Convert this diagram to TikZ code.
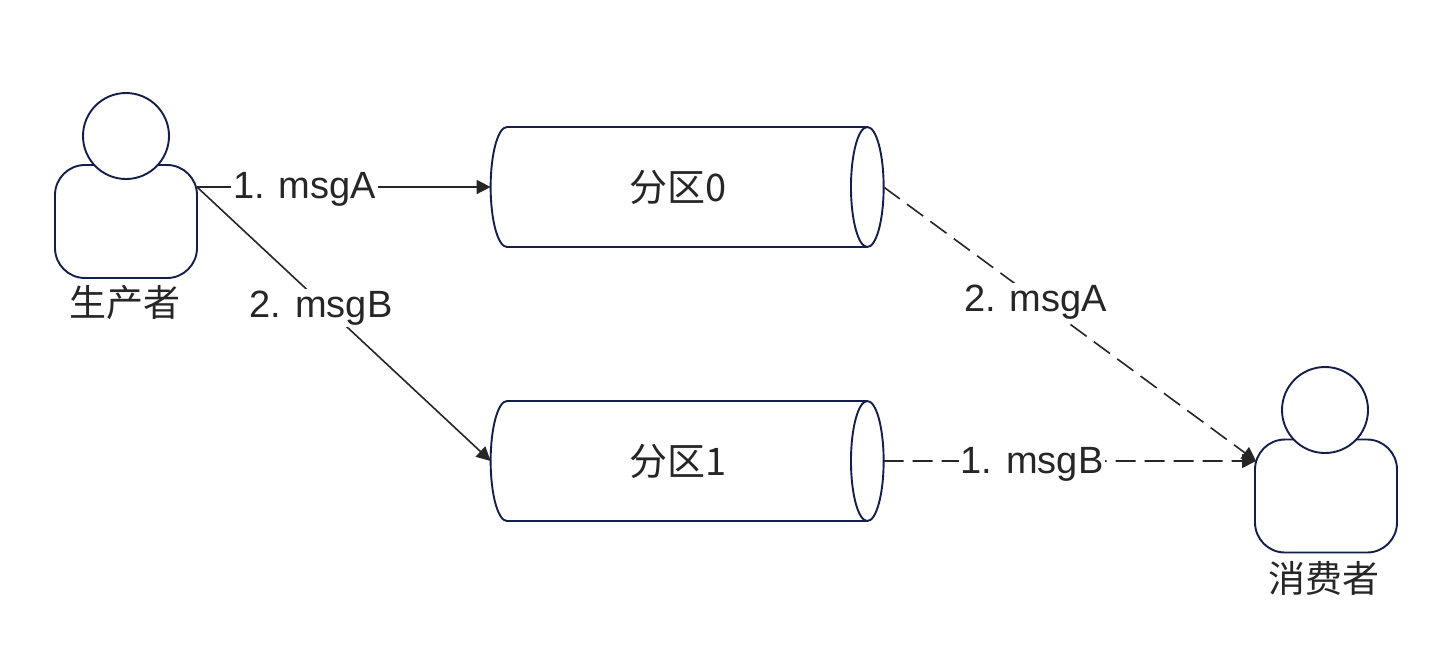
\documentclass[tikz,border=0pt]{standalone}
\usepackage{fontspec}
\setmainfont{Liberation Sans}
\newfontfamily\cjk{Noto Sans CJK SC}
\usetikzlibrary{shapes.geometric,arrows.meta}
\definecolor{navy}{HTML}{141E4A}
\definecolor{ink}{HTML}{262626}
\tikzset{
  x=0.5pt,y=-0.5pt,
  body/.style={draw=navy,line width=0.95pt,fill=white,rounded corners=15pt,minimum width=71pt,minimum height=56.5pt,inner sep=0pt,outer sep=0pt},
  head/.style={draw=navy,line width=0.95pt,fill=white,circle,minimum size=43pt,inner sep=0pt,outer sep=0pt},
  queue/.style={draw=navy,line width=0.95pt,fill=white,cylinder,shape aspect=0.95,minimum width=60pt,minimum height=196.5pt,inner sep=0pt,outer sep=0pt,text=ink,font=\fontsize{19pt}{22pt}\cjk},
  personlabel/.style={text=ink,font=\fontsize{18.5pt}{22pt}\cjk,inner sep=0pt},
  msg/.style={fill=white,text=ink,font=\fontsize{19pt}{22pt}\selectfont,inner sep=0.8pt},
  flow/.style={draw=ink,line width=0.8pt,-{Triangle[length=7pt,width=7pt]}},
  flowd/.style={flow,dash pattern=on 10pt off 4.5pt},
}
\begin{document}
\begin{tikzpicture}
\useasboundingbox[fill=white] (0,0) rectangle (1440,644);
\node[body] (pbody) at (126,221.5) {};
\node[head] (phead) at (126,136) {};
\node[personlabel] (plabel) at (125,303) {生产者};
\node[body] (cbody) at (1326,496) {};
\node[head] (chead) at (1325,410) {};
\node[personlabel] (clabel) at (1324,578) {消费者};
\node[queue] (q0) at (678.5,187) {分区0};
\node[queue] (q1) at (678.5,461) {分区1};
\coordinate (pout) at (197,187);
\coordinate (cin) at (1256,461);
\draw[flow] (pout) -- (q0.west);
\draw[flow] (pout) -- (q1.west);
\draw[flowd] (q0.east) -- (cin);
\draw[flowd] (q1.east) -- (cin);
\node[msg] (m1) at (304.5,189.5) {1. msgA};
\node[msg] (m2) at (321,308) {2. msgB};
\node[msg] (m3) at (1035.5,302) {2. msgA};
\node[msg] (m4) at (1032,464) {1. msgB};
\end{tikzpicture}
\end{document}
